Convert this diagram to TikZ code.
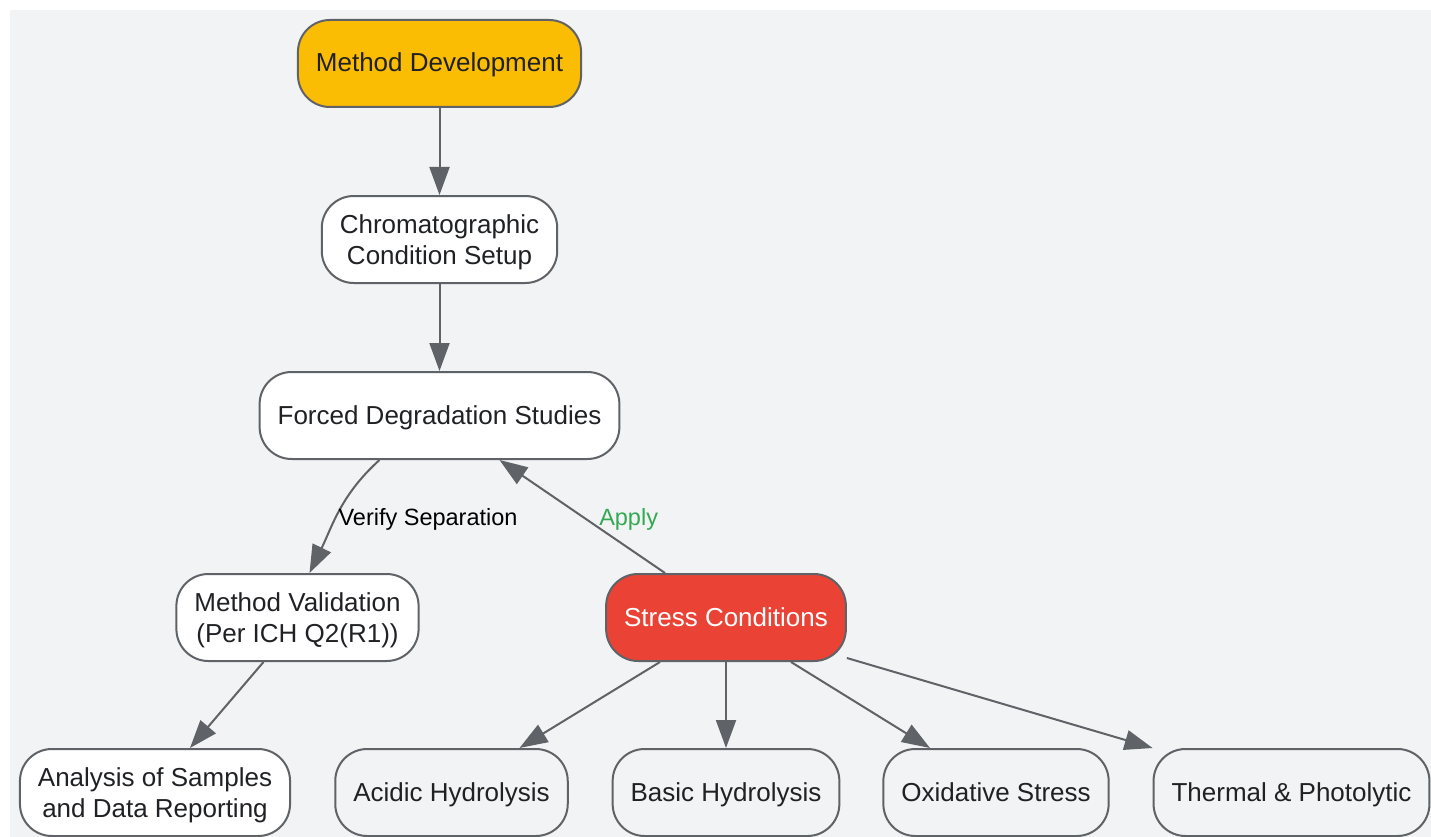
\documentclass[tikz,border=0pt]{standalone}
\usepackage{fontspec}
\setmainfont{Liberation Sans}
\usetikzlibrary{arrows.meta}
\definecolor{bgc}{HTML}{F1F3F4}
\definecolor{linec}{HTML}{5F6368}
\definecolor{txtc}{HTML}{202124}
\definecolor{goldc}{HTML}{FBBC04}
\definecolor{redc}{HTML}{EA4335}
\definecolor{greenc}{HTML}{34A853}
\begin{document}
\begin{tikzpicture}[x=1pt, y=1pt, line join=round, >={Triangle[length=28pt,width=20pt]},
		box/.style={draw=linec, line width=2pt, rounded corners=32pt, fill=white, text=txtc, align=center, inner xsep=18pt, minimum height=87pt, text height=20pt, text depth=3pt, font=\fontsize{26}{31}\selectfont},
		twoline/.style={box, text height=51pt, text depth=2pt},
		leaf/.style={box, fill=bgc},
		lbl/.style={font=\fontsize{23.5}{28}\selectfont, inner sep=2pt},
		conn/.style={->, draw=linec, line width=2pt}]
	\useasboundingbox (0,0) rectangle (1431,-837);
	\fill[white] (0,0) rectangle (1431,-837);
	\fill[bgc] (10,-10) rectangle (1431,-837);
	% Nodes
	\node[box, fill=goldc] (md) at (439.5,-63.5) {Method Development};
	\node[twoline] (chrom) at (439.5,-239.5) {Chromatographic\\Condition Setup};
	\node[box] (forced) at (439.5,-415.5) {Forced Degradation Studies};
	\node[twoline] (valid) at (297.5,-617.5) {Method Validation\\(Per ICH Q2(R1))};
	\node[box, fill=redc, text=white] (stress) at (726,-617.5) {Stress Conditions};
	\node[twoline] (report) at (155,-792.5) {Analysis of Samples\\and Data Reporting};
	\node[leaf] (acid) at (451.5,-792.5) {Acidic Hydrolysis};
	\node[leaf] (base) at (726,-792.5) {Basic Hydrolysis};
	\node[leaf] (oxid) at (996,-792.5) {Oxidative Stress};
	\node[leaf] (thermal) at (1291.5,-792.5) {Thermal \& Photolytic};
	% Edges
	\draw[conn] (md) -- (chrom);
	\draw[conn] (chrom) -- (forced);
	\draw[conn] ([xshift=-60pt]forced.south) to[out=-138,in=64] node[lbl, anchor=west, pos=0.5, xshift=-3pt, yshift=-7pt] {Verify Separation} ([xshift=12pt]valid.north);
	\draw[conn] ([xshift=-61pt]stress.north) -- node[lbl, text=greenc, anchor=west, pos=0.5, xshift=14pt, yshift=-3pt] {Apply} ([xshift=60pt]forced.south);
	\draw[conn] ([xshift=-34pt]valid.south) -- ([xshift=35pt]report.north);
	\draw[conn] ([xshift=-66pt]stress.south) -- ([xshift=68pt]acid.north);
	\draw[conn] (stress) -- (base);
	\draw[conn] ([xshift=65pt]stress.south) -- ([xshift=-66pt]oxid.north);
	\draw[conn] ([yshift=4pt]stress.south east) -- (thermal.north west);
\end{tikzpicture}
\end{document}
